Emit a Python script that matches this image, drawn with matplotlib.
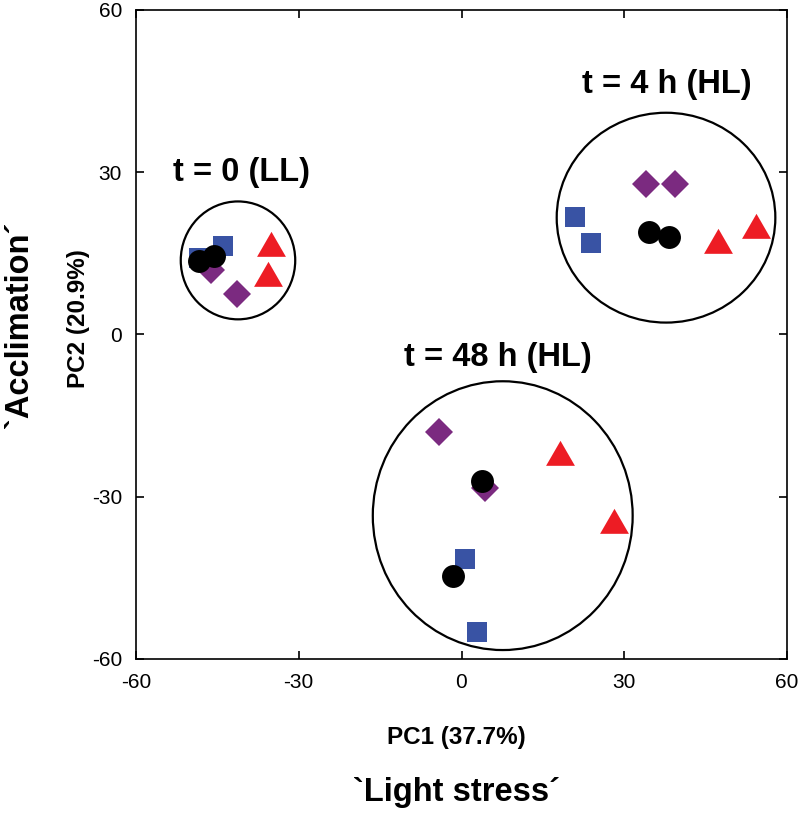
import matplotlib
matplotlib.use('Agg')
import matplotlib.pyplot as plt
from matplotlib.patches import Ellipse

plt.rcParams['font.family'] = ['Liberation Sans', 'DejaVu Sans']
plt.rcParams['axes.unicode_minus'] = False

# PCA scores per marker type (PC1, PC2)
square_x = [-48.4, -43.9, 21.0, 23.8, 0.6, 2.8]
square_y = [14.2, 16.3, 21.7, 16.9, -41.5, -55.0]
diamond_x = [-46.2, -41.3, 34.1, 39.4, -4.1, 4.4]
diamond_y = [12.0, 7.4, 27.9, 27.9, -18.1, -28.4]
triangle_x = [-35.2, -35.6, 47.3, 54.3, 18.1, 28.1]
triangle_y = [16.0, 10.5, 16.6, 19.4, -22.7, -35.2]
circle_x = [-48.3, -45.7, 34.5, 38.2, 3.8, -1.5]
circle_y = [13.5, 14.6, 19.0, 18.0, -27.1, -44.7]

# group outlines: centre x, centre y, width, height
group_names = ['t = 0 (LL)', 't = 4 h (HL)', 't = 48 h (HL)']
ell_cx = [-41.2, 37.7, 7.6]
ell_cy = [13.7, 21.6, -33.5]
ell_w = [21.1, 40.3, 47.9]
ell_h = [21.8, 38.8, 49.7]
label_x = [-40.5, 37.8, 6.7]
label_y = [29.9, 46.2, -4.3]

ticks = [-60, -30, 0, 30, 60]

fig = plt.figure(figsize=(8, 8.19), dpi=100)
ax = fig.add_axes([0.17, 0.1954, 0.81375, 0.7924])

for cx, cy, w, h in zip(ell_cx, ell_cy, ell_w, ell_h):
    ax.add_patch(Ellipse((cx, cy), w, h, fill=False, edgecolor='black', lw=1.6, zorder=1))

tri = [(-1, -0.577), (1, -0.577), (0, 1.155)]
ax.plot(square_x, square_y, 's', color='#3953a4', ms=15, mew=0, ls='none', zorder=2)
ax.plot(diamond_x, diamond_y, 'D', color='#7b2a80', ms=14, mew=0, ls='none', zorder=3)
ax.plot(triangle_x, triangle_y, marker=tri, color='#ed1c24', ms=24, mew=0, ls='none', zorder=4)
ax.plot(circle_x, circle_y, 'o', color='black', ms=16.5, mew=0, ls='none', zorder=5)

for name, lx, ly in zip(group_names, label_x, label_y):
    ax.text(lx, ly, name, ha='center', va='center', fontsize=23.5, fontweight='bold')

ax.set_xlim(-60, 60)
ax.set_ylim(-60, 60)
ax.set_xticks(ticks)
ax.set_yticks(ticks)
ax.tick_params(direction='in', length=6, width=1.2, labelsize=15, top=True, right=True)
ax.tick_params(axis='x', pad=10)
ax.tick_params(axis='y', pad=10)
for s in ax.spines.values():
    s.set_linewidth(1.2)

fig.text(0.571, 0.100, 'PC1 (37.7%)', ha='center', va='center', fontsize=17.5, fontweight='bold')
fig.text(0.571, 0.032, '`Light stress´', ha='center', va='center', fontsize=23.5, fontweight='bold')
fig.text(0.0975, 0.611, 'PC2 (20.9%)', ha='center', va='center', fontsize=17.5, fontweight='bold',
         rotation=90)
fig.text(0.025, 0.603, '`Acclimation´', ha='center', va='center', fontsize=23.5, fontweight='bold',
         rotation=90)

fig.savefig('out.png', dpi=100)
